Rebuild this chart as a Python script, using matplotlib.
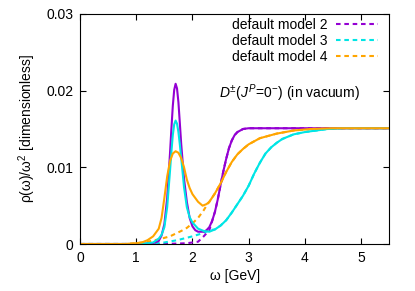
import matplotlib
matplotlib.use("Agg")
import matplotlib.pyplot as plt

plt.rcParams["font.family"] = ["Liberation Sans", "DejaVu Sans"]
plt.rcParams["mathtext.fontset"] = "custom"
plt.rcParams["mathtext.rm"] = "Liberation Sans"
plt.rcParams["mathtext.it"] = "Liberation Sans:italic"
plt.rcParams["font.size"] = 10

# spectral functions rho/omega^2 (solid)
w_m2 = [0, 1.0, 1.3, 1.4, 1.45, 1.5, 1.55, 1.6, 1.625, 1.65, 1.675, 1.7, 1.725, 1.75,
        1.775, 1.8, 1.85, 1.9, 1.95, 2.0, 2.05, 2.1, 2.2, 2.25, 2.3, 2.35, 2.4, 2.45,
        2.5, 2.55, 2.6, 2.65, 2.7, 2.75, 2.8, 2.9, 3.0, 5.5]
rho_m2 = [0, 0, 0.0001, 0.0004, 0.0011, 0.0026, 0.0060, 0.0118, 0.0150, 0.0180, 0.0201,
          0.0209, 0.0203, 0.0185, 0.0158, 0.0130, 0.0085, 0.0055, 0.0034, 0.0023, 0.0018,
          0.0016, 0.0016, 0.0018, 0.0022, 0.0030, 0.0042, 0.0058, 0.0077, 0.0095, 0.0111,
          0.0125, 0.0135, 0.0142, 0.0146, 0.0150, 0.0151, 0.0151]

w_m3 = [0, 1.0, 1.2, 1.3, 1.4, 1.45, 1.5, 1.55, 1.6, 1.625, 1.65, 1.675, 1.7, 1.725, 1.75,
        1.775, 1.8, 1.85, 1.9, 1.95, 2.0, 2.1, 2.2, 2.3, 2.4, 2.5, 2.6, 2.7, 2.8, 2.9,
        3.0, 3.1, 3.2, 3.3, 3.4, 3.5, 3.6, 3.8, 4.0, 4.2, 4.4, 4.7, 5.5]
rho_m3 = [0, 0, 0.0001, 0.0002, 0.0007, 0.0012, 0.0022, 0.0048, 0.0095, 0.0120, 0.0142,
          0.0156, 0.0161, 0.0157, 0.0146, 0.0130, 0.0112, 0.0074, 0.0048, 0.0035, 0.0028,
          0.0020, 0.0017, 0.0016, 0.0019, 0.0024, 0.0031, 0.0041, 0.0052, 0.0063, 0.0076,
          0.0092, 0.0106, 0.0118, 0.0126, 0.0132, 0.0137, 0.0143, 0.0146, 0.0148, 0.0150,
          0.0151, 0.0151]

w_m4 = [0, 0.8, 1.0, 1.1, 1.2, 1.3, 1.4, 1.45, 1.5, 1.55, 1.6, 1.65, 1.7, 1.75, 1.8, 1.85,
        1.9, 1.95, 2.0, 2.1, 2.18, 2.25, 2.3, 2.4, 2.5, 2.6, 2.7, 2.8, 2.9, 3.0, 3.2, 3.5,
        3.8, 4.1, 4.5, 5.5]
rho_m4 = [0, 0, 0.0001, 0.0002, 0.0005, 0.0010, 0.0020, 0.0034, 0.0060, 0.0088, 0.0108,
          0.0118, 0.0121, 0.0119, 0.0112, 0.0100, 0.0084, 0.0073, 0.0065, 0.0055, 0.0050,
          0.0052, 0.0055, 0.0066, 0.0079, 0.0094, 0.0107, 0.0117, 0.0124, 0.0130, 0.0138,
          0.0144, 0.0148, 0.0150, 0.0151, 0.0151]

# default models (dashed)
w_d2 = [0, 1.5, 1.9, 2.1, 2.2, 2.3, 2.35, 2.4, 2.45, 2.5, 2.55, 2.6, 2.65, 2.7, 2.75, 2.8,
        2.9, 3.0, 5.5]
dm2 = [0, 0, 0.0001, 0.0003, 0.0010, 0.0018, 0.0030, 0.0042, 0.0058, 0.0077, 0.0095,
       0.0111, 0.0125, 0.0135, 0.0142, 0.0146, 0.0150, 0.0151, 0.0151]

w_d3 = [0, 1.2, 1.3, 1.5, 1.73, 2.0, 2.18, 2.3, 2.4, 2.5, 2.6, 2.7, 2.8, 2.9, 3.0, 3.1,
        3.2, 3.3, 3.4, 3.5, 3.6, 3.8, 4.0, 4.2, 4.4, 4.7, 5.5]
dm3 = [0, 0, 0.0001, 0.0002, 0.0005, 0.0010, 0.0014, 0.0018, 0.0019, 0.0024, 0.0031,
       0.0041, 0.0052, 0.0063, 0.0076, 0.0092, 0.0106, 0.0118, 0.0126, 0.0132, 0.0137,
       0.0143, 0.0146, 0.0148, 0.0150, 0.0151, 0.0151]

w_d4 = [0, 0.8, 1.0, 1.2, 1.4, 1.6, 1.8, 1.9, 2.0, 2.1, 2.2, 2.25, 2.3, 2.4, 2.5, 2.6,
        2.7, 2.8, 2.9, 3.0, 3.2, 3.5, 3.8, 4.1, 4.5, 5.5]
dm4 = [0, 0, 0.0001, 0.0003, 0.0006, 0.0010, 0.0017, 0.0021, 0.0027, 0.0034, 0.0044,
       0.0050, 0.0055, 0.0066, 0.0079, 0.0094, 0.0107, 0.0117, 0.0124, 0.0130, 0.0138,
       0.0144, 0.0148, 0.0150, 0.0151, 0.0151]

c2 = "#9400d3"
c3 = "#00e5e5"
c4 = "#ffa500"

fig = plt.figure(figsize=(4.15, 2.91), dpi=100)
ax = fig.add_axes([0.193, 0.1615, 0.7446, 0.7904])

ax.plot(w_d2, dm2, color=c2, lw=1.5, ls=(0, (2.2, 1.8)), label="default model 2")
ax.plot(w_d3, dm3, color=c3, lw=1.5, ls=(0, (2.2, 1.8)), label="default model 3")
ax.plot(w_d4, dm4, color=c4, lw=1.5, ls=(0, (2.2, 1.8)), label="default model 4")
ax.plot(w_m2, rho_m2, color=c2, lw=1.5)
ax.plot(w_m3, rho_m3, color=c3, lw=1.5)
ax.plot(w_m4, rho_m4, color=c4, lw=1.5)

ax.set_xlim(0, 5.5)
ax.set_ylim(0, 0.03)
ax.set_xticks([0, 1, 2, 3, 4, 5])
ax.set_yticks([0, 0.01, 0.02, 0.03])
ax.set_yticklabels(["0", "0.01", "0.02", "0.03"])
ax.tick_params(direction="in", top=True, right=True, length=4, width=0.8, pad=5)
ax.set_xlabel("ω [GeV]", labelpad=3)
ax.set_ylabel("ρ(ω)/ω$^2$ [dimensionless]", labelpad=6)

ax.text(2.47, 0.0191, r"$D^{\pm}(J^P\!=\!0^{-})$ (in vacuum)", fontsize=10)

ax.legend(loc="upper right", bbox_to_anchor=(0.99, 1.02), frameon=False,
          markerfirst=False, handlelength=3.0, handletextpad=0.6,
          labelspacing=0.15, borderaxespad=0.2)

fig.savefig("out.png", dpi=100)
